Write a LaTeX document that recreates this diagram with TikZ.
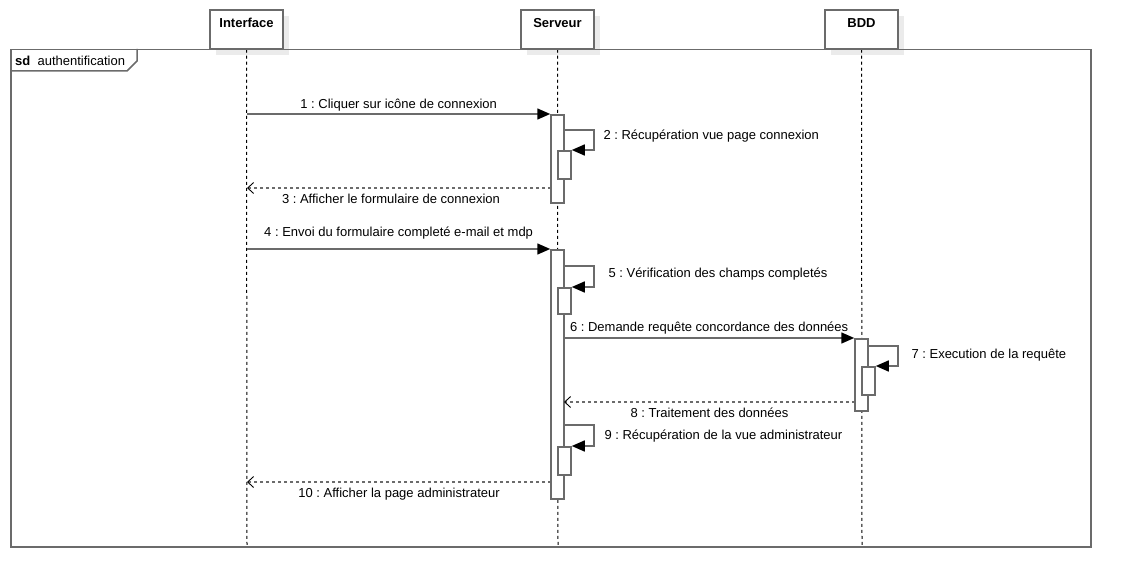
\documentclass[tikz,border=0pt]{standalone}
\usepackage{fontspec}
\setmainfont{Liberation Sans}
\frenchspacing
\usetikzlibrary{arrows.meta,shadows}
\definecolor{linegray}{HTML}{6B6B6B}
\definecolor{shadowgray}{HTML}{EBEBEB}

\begin{document}
\begin{tikzpicture}[x=1pt,y=-1pt,
		every node/.style={font=\fontsize{13}{15}\selectfont},
		actor/.style={draw=linegray, line width=1.5pt, fill=white, minimum width=73pt, inner ysep=7pt, text height=11pt, text depth=14pt, font=\fontsize{13}{15}\selectfont\bfseries, drop shadow={shadow xshift=6pt, shadow yshift=-6pt, fill=shadowgray, opacity=1}},
		act/.style={draw=linegray, line width=1.5pt, fill=white, minimum width=13pt, inner sep=0pt, anchor=north},
		life/.style={dash pattern=on 3pt off 3pt, line width=1pt},
		call/.style={draw=linegray, line width=1.5pt, -{Triangle[length=13pt,width=11pt,color=black]}},
		reply/.style={draw=linegray, line width=1.3pt, dash pattern=on 3pt off 3pt, -{Straight Barb[length=6pt,width=11pt,color=black,line width=0.9pt]}},
		frame/.style={draw=linegray, line width=1.5pt}]
		\useasboundingbox (0,0) rectangle (1130,586);
		% lifelines
		\node[actor] (int) at (246.5,29.5) {Interface};
		\node[actor] (srv) at (557.5,29.5) {Serveur};
		\node[actor] (bdd) at (861.5,29.5) {BDD};
		\coordinate (intEnd) at (247,546);
		\coordinate (srvEnd) at (558,546);
		\coordinate (bddEnd) at (862,546);
		\draw[life] (int.south) -- (intEnd);
		\draw[life] (srv.south) -- (srvEnd);
		\draw[life] (bdd.south) -- (bddEnd);
		% frame
		\node[frame, anchor=north west, minimum width=1080pt, minimum height=497pt, inner sep=0pt] (sd) at (10,49) {};
		\draw[frame] (sd.north west) ++(0,22) -- ++(117,0) -- ++(10,-10) -- (137,49);
		\node[anchor=west, inner sep=0pt] (sdlab) at (15,61) {\textbf{sd}\ \ authentification};
		% activations
		\node[act, minimum height=88pt] (act1) at (557.5,114) {};
		\node[act, minimum height=28pt] (act2) at (564.5,150) {};
		\node[act, minimum height=249pt] (act3) at (557.5,249) {};
		\node[act, minimum height=26pt] (act5) at (564.5,287) {};
		\node[act, minimum height=72pt] (act4) at (861.5,338) {};
		\node[act, minimum height=28pt] (act7) at (868.5,366) {};
		\node[act, minimum height=28pt] (act9) at (564.5,446) {};

		% messages
		\coordinate (i1) at (247,114);
		\draw[call] (i1) -- node[above, yshift=-1pt] {1 : Cliquer sur icône de connexion} (act1.north west);
		\coordinate (s2) at (564,130);
		\draw[call] (s2) -| ++(30,20) -- (act2.north east);
		\node[anchor=west] (l2) at (600,136) {2 : Récupération vue page connexion};
		\coordinate (s3) at (551,188);
		\coordinate (i3) at (247,188);
		\draw[reply] (s3) -- node[below, xshift=-8pt, yshift=-2pt] {3 : Afficher le formulaire de connexion} (i3);
		\coordinate (i4) at (247,249);
		\draw[call] (i4) -- node[above, yshift=6pt] {4 : Envoi du formulaire completé e-mail et mdp} (act3.north west);
		\coordinate (s5) at (564,266);
		\draw[call] (s5) -| ++(30,21) -- (act5.north east);
		\node[anchor=west] (l5) at (605,274) {5 : Vérification des champs completés};
		\coordinate (s6) at (564,338);
		\draw[call] (s6) -- node[above, yshift=0pt] {6 : Demande requête concordance des données} (act4.north west);
		\coordinate (b7) at (868,346);
		\draw[call] (b7) -| ++(30,20) -- (act7.north east);
		\node[anchor=west] (l7) at (908,355) {7 : Execution de la requête};
		\coordinate (b8) at (855,402);
		\coordinate (s8) at (564,402);
		\draw[reply] (b8) -- node[below, yshift=-2pt] {8 : Traitement des données} (s8);
		\coordinate (s9) at (564,425);
		\draw[call] (s9) -| ++(30,21) -- (act9.north east);
		\node[anchor=west] (l9) at (601,436) {9 : Récupération de la vue administrateur};
		\coordinate (s10) at (551,482);
		\coordinate (i10) at (247,482);
		\draw[reply] (s10) -- node[below, yshift=-2pt] {10 : Afficher la page administrateur} (i10);
\end{tikzpicture}
\end{document}
